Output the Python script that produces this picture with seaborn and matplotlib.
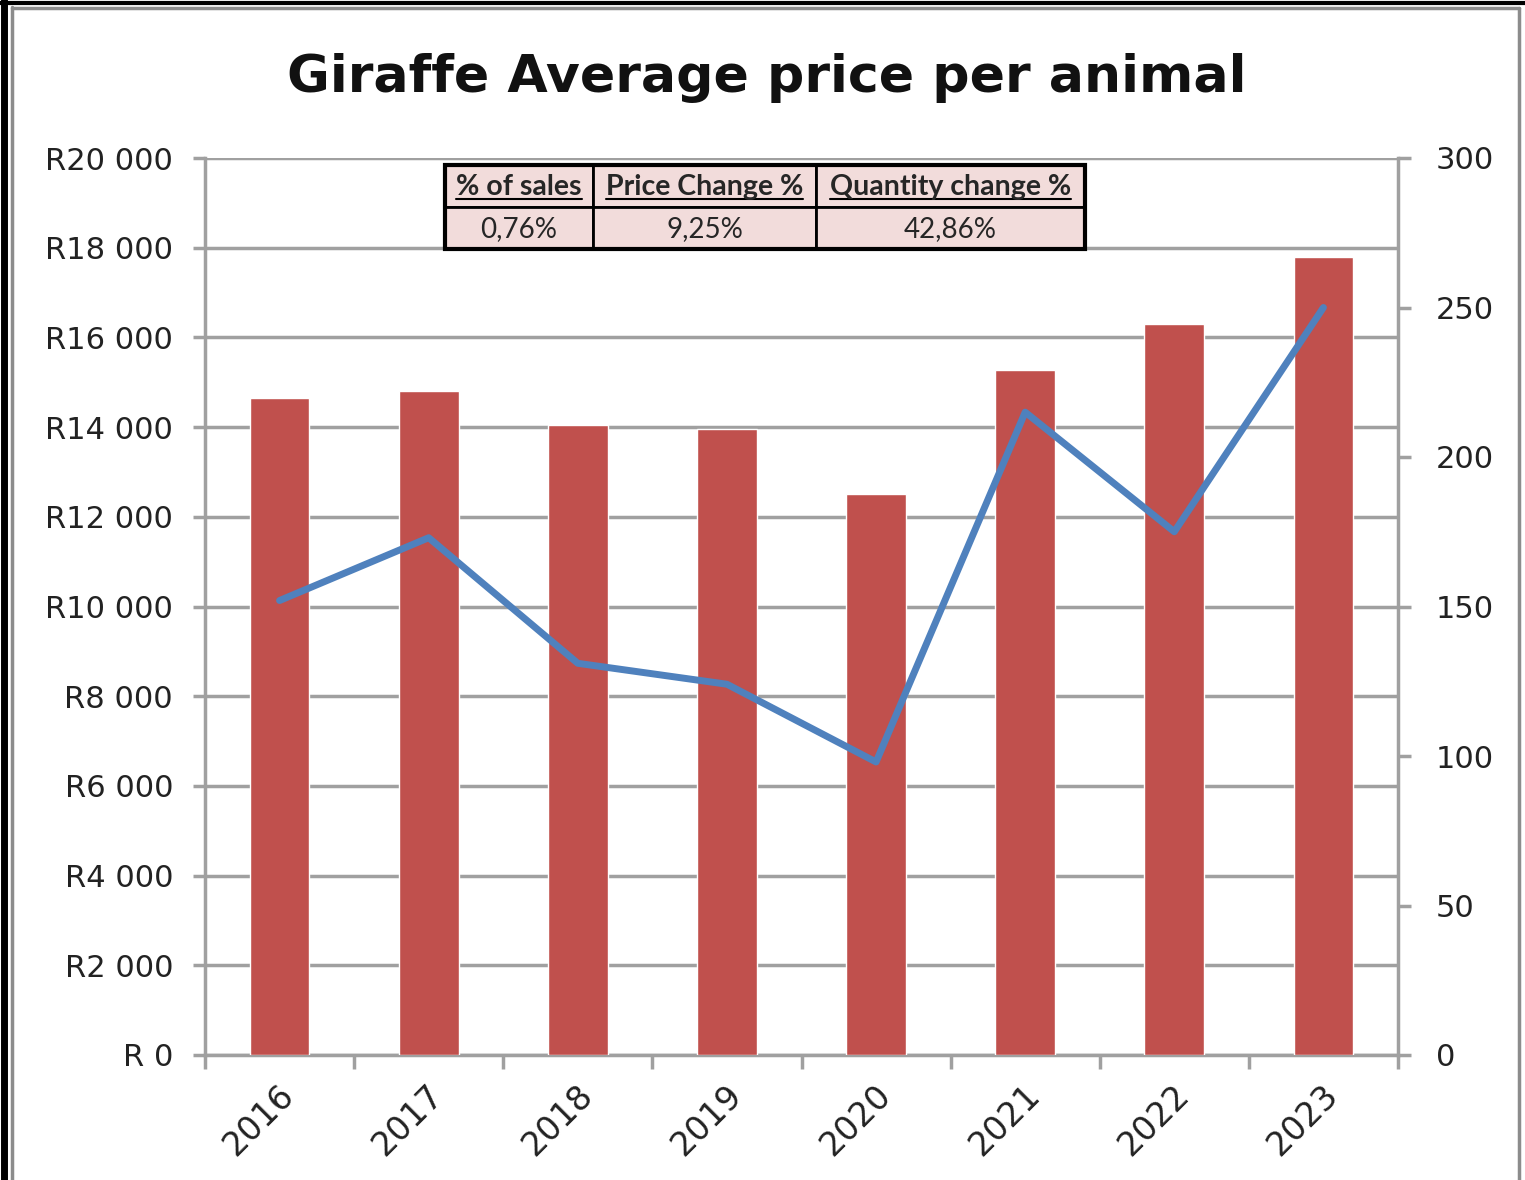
import numpy as np
import pandas as pd
import matplotlib
matplotlib.use("Agg")
import matplotlib.pyplot as plt
import matplotlib.transforms as mtransforms
import seaborn as sns
from matplotlib.lines import Line2D
from matplotlib.patches import Rectangle

# data
years = ["2016", "2017", "2018", "2019", "2020", "2021", "2022", "2023"]
avg_price = [14650, 14800, 14050, 13950, 12500, 15270, 16300, 17800]
quantity = [152, 173, 131, 124, 98, 215, 175, 250]

table_headers = ["% of sales", "Price Change %", "Quantity change %"]
table_values = ["0,76%", "9,25%", "42,86%"]

bar_color = "#C0504D"
line_color = "#4F81BD"
grid_color = "#A0A0A0"

sns.set_style("white")
plt.rcParams["font.family"] = ["DejaVu Sans"]

df = pd.DataFrame({"year": years, "price": avg_price, "qty": quantity})
df["pos"] = np.arange(len(df))

W, H = 1525, 1180
fig = plt.figure(figsize=(15.25, 11.8), dpi=100)
ax = fig.add_axes([205 / W, 1 - 1055 / H, (1398 - 205) / W, (1055 - 158) / H])

sns.barplot(data=df, x="year", y="price", color=bar_color, width=0.4,
            saturation=1, ax=ax, zorder=3)
ax.set_xlim(-0.5, len(years) - 0.5)
ax.set_ylim(0, 20000)
ax.set_yticks(np.arange(0, 20001, 2000))
ax.set_yticklabels(["R 0"] + [f"R{v // 1000} 000" for v in range(2000, 20001, 2000)])
ax.yaxis.grid(True, color=grid_color, lw=2.5, zorder=0)
ax.set_axisbelow(True)
ax.set_xlabel("")
ax.set_ylabel("")

ax2 = ax.twinx()
sns.lineplot(data=df, x="pos", y="qty", color=line_color, lw=5, ax=ax2, zorder=4)
ax2.set_ylim(0, 300)
ax2.set_yticks(np.arange(0, 301, 50))
ax2.set_ylabel("")
ax2.set_xlim(-0.5, len(years) - 0.5)

for a in (ax, ax2):
    for s in a.spines.values():
        s.set_visible(False)

# axis lines
ax.spines["left"].set_visible(True)
ax.spines["bottom"].set_visible(True)
ax2.spines["right"].set_visible(True)
for s in (ax.spines["left"], ax.spines["bottom"], ax2.spines["right"]):
    s.set_color(grid_color)
    s.set_linewidth(2.5)

ax.tick_params(axis="y", which="major", length=9, width=2.5, color=grid_color,
               labelsize=22, labelcolor="#222222", pad=14, left=True)
ax2.tick_params(axis="y", which="major", length=9, width=2.5, color=grid_color,
                labelsize=22, labelcolor="#222222", pad=18, right=True)

ax.set_xticks(np.arange(len(years)))
ax.set_xticklabels(years, rotation=45, ha="right", rotation_mode="anchor",
                   fontsize=24, color="#222222")
ax.tick_params(axis="x", which="major", length=0, pad=17)
ax.set_xticks(np.arange(-0.5, len(years)), minor=True)
ax.tick_params(axis="x", which="minor", length=10, width=2.5, color=grid_color,
               bottom=True)
shift = mtransforms.ScaledTranslation(-0.02, 0, fig.dpi_scale_trans)
for lab in ax.get_xticklabels():
    lab.set_transform(lab.get_transform() + shift)

fig.text(767 / W, 1 - 78 / H, "Giraffe Average price per animal",
         ha="center", va="center", fontsize=37.5, fontweight="bold", color="#111111")

# summary table
cols = [445, 593, 816, 1085]
rows = [165, 207, 249]
for i in range(3):
    for r in range(2):
        x0, x1 = cols[i], cols[i + 1]
        y0, y1 = rows[r], rows[r + 1]
        fig.patches.append(Rectangle((x0 / W, 1 - y1 / H), (x1 - x0) / W, (y1 - y0) / H,
                                     transform=fig.transFigure, facecolor="#F2DCDB",
                                     edgecolor="black", lw=2, zorder=5))
    cx = (cols[i] + cols[i + 1]) / 2 / W
    fig.text(cx, 1 - 187 / H, table_headers[i], ha="center", va="center",
             fontsize=20.5, fontweight="bold", family=["Lato", "DejaVu Sans"], zorder=6)
    fig.text(cx, 1 - 229 / H, table_values[i], ha="center", va="center",
             fontsize=20, family=["Lato", "DejaVu Sans"], zorder=6)
fig.patches.append(Rectangle((445 / W, 1 - 249 / H), (1085 - 445) / W, (249 - 165) / H,
                             transform=fig.transFigure, fill=False,
                             edgecolor="black", lw=3, zorder=7))

# underline header texts
fig.canvas.draw()
renderer = fig.canvas.get_renderer()
for t in fig.texts:
    if t.get_text() in table_headers:
        bb = t.get_window_extent(renderer)
        y = (bb.y0 + 1) / H
        fig.lines.append(Line2D([bb.x0 / W, bb.x1 / W], [y, y], transform=fig.transFigure,
                                color="black", lw=1.5, zorder=6))

# outer frame of the chart object
fig.lines.append(Line2D([12 / W, 12 / W], [0, 1 - 7 / H], transform=fig.transFigure,
                        color="#8C8C8C", lw=2.5))
fig.lines.append(Line2D([12 / W, 1519 / W], [1 - 8 / H, 1 - 8 / H], transform=fig.transFigure,
                        color="#8C8C8C", lw=2.5))
fig.lines.append(Line2D([1519 / W, 1519 / W], [0, 1 - 8 / H], transform=fig.transFigure,
                        color="#8C8C8C", lw=2.5))
fig.lines.append(Line2D([0, 1], [1 - 3 / H, 1 - 3 / H], transform=fig.transFigure,
                        color="black", lw=3))
fig.lines.append(Line2D([4 / W, 4 / W], [0, 1], transform=fig.transFigure,
                        color="black", lw=5))

fig.savefig("out.png", dpi=100)
